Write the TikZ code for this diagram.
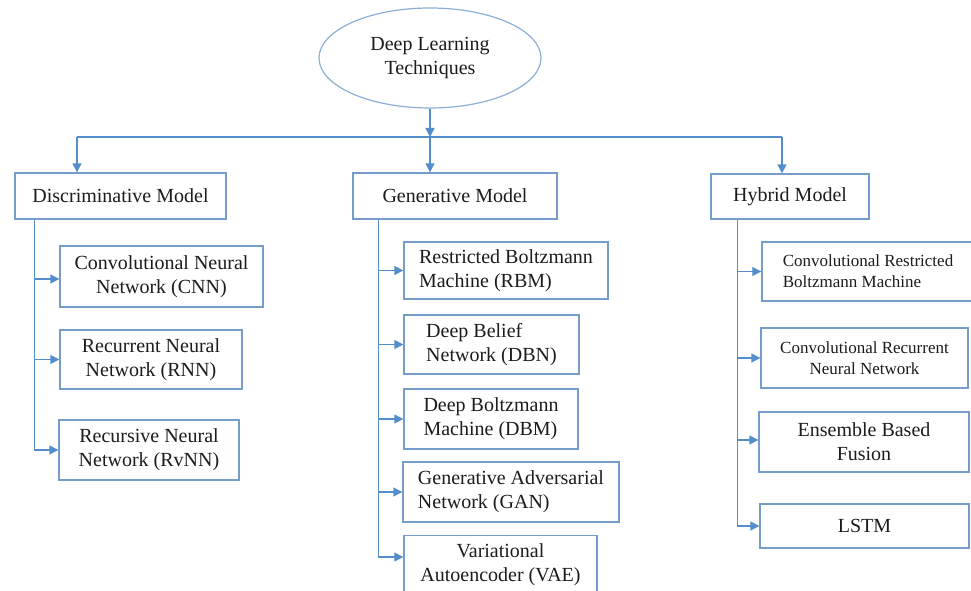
\documentclass[tikz,border=0pt]{standalone}
\usepackage{fontspec}
\setmainfont{Liberation Serif}
\usetikzlibrary{shapes.geometric,arrows.meta,calc}
\definecolor{arrowblue}{RGB}{84,141,204}
\definecolor{boxblue}{RGB}{118,156,204}
\definecolor{ellblue}{RGB}{140,175,215}
\definecolor{txt}{RGB}{28,28,28}
\begin{document}
\begin{tikzpicture}[x=1pt,y=-1pt,
  bx/.style={draw=boxblue,line width=1.4pt,text=txt,inner sep=0pt,
    font=\rmfamily\fontsize{20}{24}\selectfont},
  bxs/.style={bx,font=\rmfamily\fontsize{17}{21}\selectfont},
  trunk/.style={draw=arrowblue,line width=1.4pt},
  arr/.style={draw=arrowblue,line width=1.4pt,-{Triangle[length=9pt,width=9pt]}}]
\useasboundingbox[fill=white] (0,0) rectangle (971,591);
% root
\node[ellipse,draw=ellblue,line width=1.2pt,minimum width=222pt,minimum height=100pt,
  inner sep=0pt,align=center,text=txt,font=\rmfamily\fontsize{20}{24}\selectfont]
  (root) at (430,58) {Deep Learning\\Techniques};
% level 1
\node[bx,minimum width=211pt,minimum height=46pt] (disc) at (120.5,196) {Discriminative Model};
\node[bx,minimum width=204pt,minimum height=46pt] (gen) at (455,196) {Generative Model};
\node[bx,minimum width=158pt,minimum height=45pt] (hyb) at (790,196.5) {Hybrid Model};
% discriminative children
\node[bx,minimum width=203pt,minimum height=61pt,align=center] (cnn) at (161.5,276.5) {Convolutional Neural\\Network (CNN)};
\node[bx,minimum width=182pt,minimum height=59pt,align=center] (rnn) at (151,359.5) {Recurrent Neural\\Network (RNN)};
\node[bx,minimum width=180pt,minimum height=60pt,align=center] (rvnn) at (149,450) {Recursive Neural\\Network (RvNN)};
% generative children
\node[bx,minimum width=204pt,minimum height=57pt,align=left] (rbm) at (506,270.5) {Restricted Boltzmann\\Machine (RBM)};
\node[bx,minimum width=175pt,minimum height=59pt,align=left] (dbn) at (491.5,344.5) {Deep Belief\\Network (DBN)};
\node[bx,minimum width=174pt,minimum height=60pt,align=left] (dbm) at (491,419) {Deep Boltzmann\\Machine (DBM)};
\node[bx,minimum width=216pt,minimum height=60pt,align=left] (gan) at (511,492) {Generative Adversarial\\Network (GAN)};
\node[bx,minimum width=193pt,minimum height=57pt,align=center,anchor=north] (vae) at (500.5,535) {Variational\\Autoencoder (VAE)};
% hybrid children
\node[bxs,minimum width=212pt,minimum height=59pt,align=left] (crbm) at (868,271.5) {Convolutional Restricted\\Boltzmann Machine};
\node[bxs,minimum width=207pt,minimum height=60pt,align=center] (crnn) at (864.5,358) {Convolutional Recurrent\\Neural Network};
\node[bx,minimum width=210pt,minimum height=60pt,align=center] (ebf) at (864,442) {Ensemble Based\\Fusion};
\node[bx,minimum width=209pt,minimum height=44pt] (lstm) at (864.5,526) {LSTM};
% top connectors
\coordinate (hl) at (77,137);
\coordinate (hm) at (430,137);
\coordinate (hr) at (782,137);
\draw[trunk] (hl) -- (hr);
\draw[arr] (root.south) -- (hm);
\draw[arr] (hl) -- (hl |- disc.north);
\draw[arr] (hm) -- (hm |- gen.north);
\draw[arr] (hr) -- (hr |- hyb.north);
% discriminative trunk
\coordinate (dt) at ([xshift=20pt]disc.south west);
\draw[trunk] (dt) -- (dt |- rvnn.west);
\draw[arr] ([yshift=-2.5pt]dt |- cnn.west) -- ([yshift=-2.5pt]cnn.west);
\draw[arr] (dt |- rnn.west) -- (rnn.west);
\draw[arr] (dt |- rvnn.west) -- (rvnn.west);
% generative trunk
\coordinate (gt) at ([xshift=26pt]gen.south west);
\coordinate (vaeA) at ([yshift=-22pt]vae.north west);
\draw[trunk] (gt) -- (gt |- vaeA);
\draw[arr] (gt |- rbm.west) -- (rbm.west);
\draw[arr] (gt |- dbn.west) -- (dbn.west);
\draw[arr] (gt |- dbm.west) -- (dbm.west);
\draw[arr] (gt |- gan.west) -- (gan.west);
\draw[arr] (gt |- vaeA) -- (vaeA);
% hybrid trunk
\coordinate (ht) at ([xshift=27pt]hyb.south west);
\draw[trunk] (ht) -- (ht |- lstm.west);
\draw[arr] (ht |- crbm.west) -- (crbm.west);
\draw[arr] (ht |- crnn.west) -- (crnn.west);
\draw[arr] ([yshift=2pt]ht |- ebf.west) -- ([yshift=2pt]ebf.west);
\draw[arr] (ht |- lstm.west) -- (lstm.west);
\end{tikzpicture}
\end{document}
